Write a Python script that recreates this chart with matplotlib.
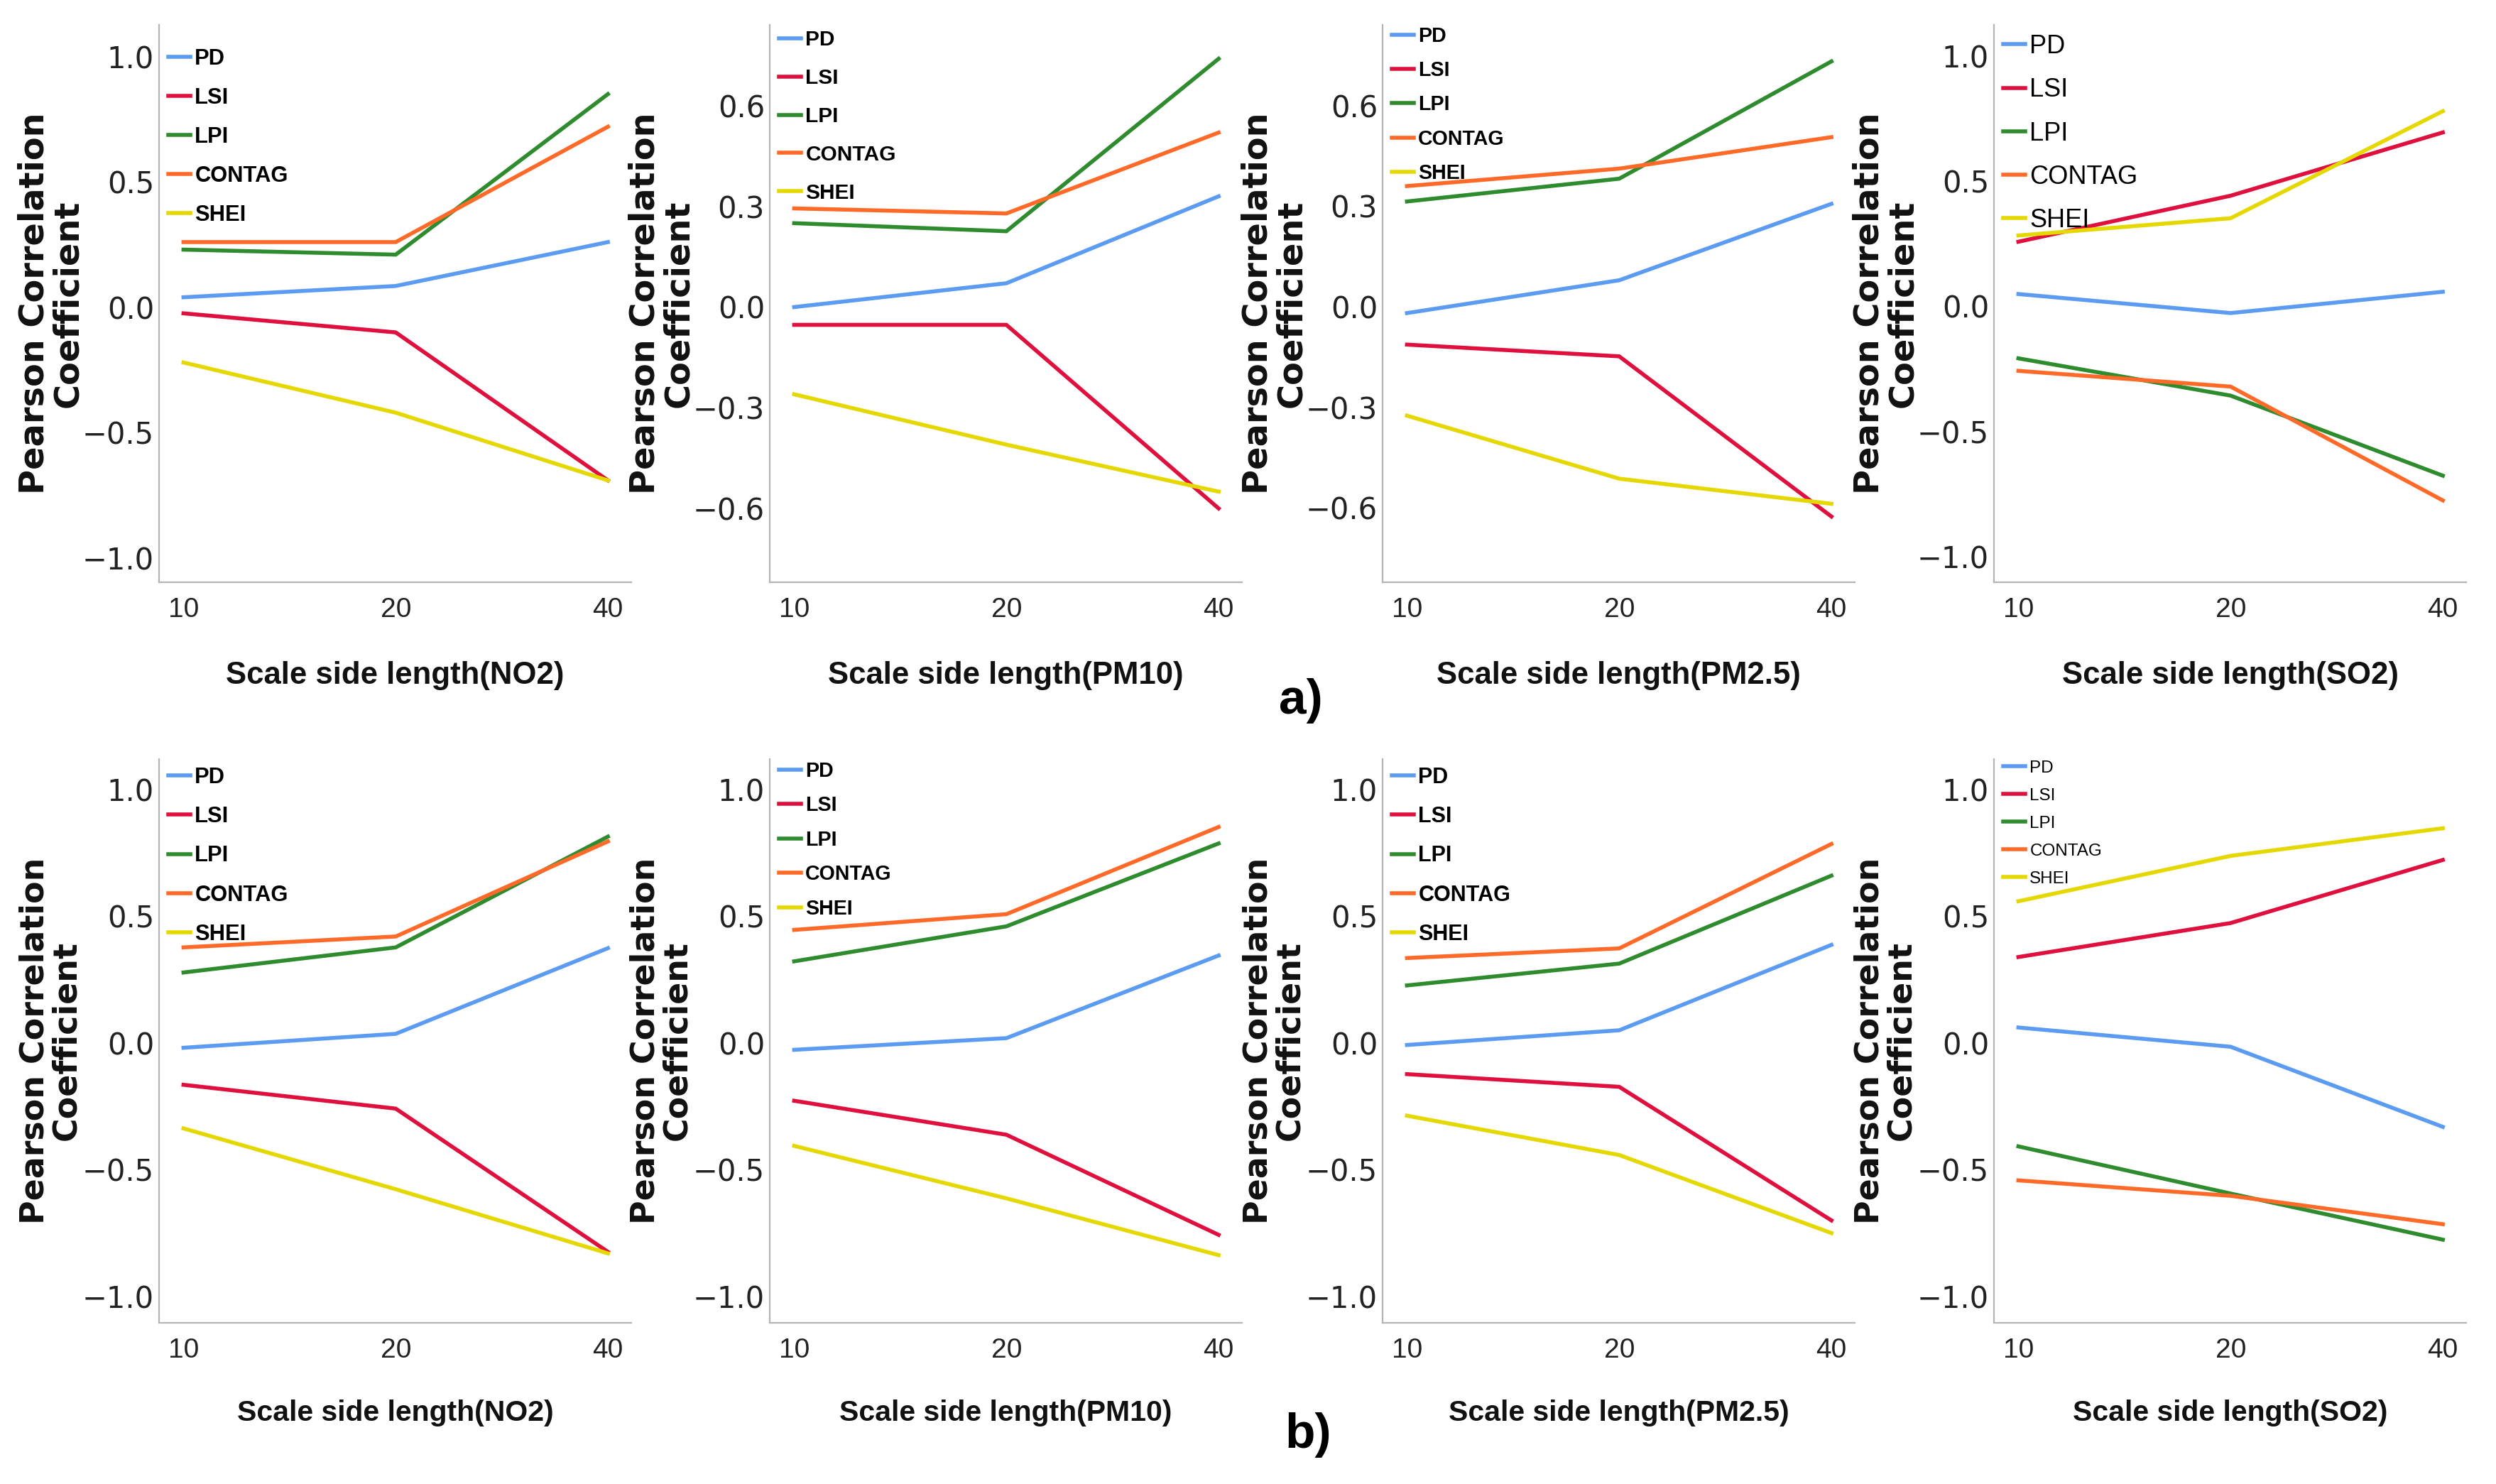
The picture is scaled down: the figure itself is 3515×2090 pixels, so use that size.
import matplotlib
matplotlib.use("Agg")
import matplotlib.pyplot as plt

# Scale side lengths on the x axis (categorical)
scales = ["10", "20", "40"]
indices = ["PD", "LSI", "LPI", "CONTAG", "SHEI"]
pollutants = ["NO2", "PM10", "PM2.5", "SO2"]

# Row a) Pearson correlation coefficients
no2_a = {"PD": [0.04, 0.085, 0.26], "LSI": [-0.024, -0.10, -0.69],
         "LPI": [0.23, 0.21, 0.85], "CONTAG": [0.26, 0.26, 0.72],
         "SHEI": [-0.22, -0.42, -0.69]}
pm10_a = {"PD": [0.0, 0.071, 0.33], "LSI": [-0.053, -0.053, -0.60],
          "LPI": [0.25, 0.226, 0.74], "CONTAG": [0.294, 0.279, 0.52],
          "SHEI": [-0.26, -0.41, -0.55]}
pm25_a = {"PD": [-0.019, 0.079, 0.307], "LSI": [-0.113, -0.148, -0.626],
          "LPI": [0.314, 0.382, 0.732], "CONTAG": [0.36, 0.412, 0.506],
          "SHEI": [-0.325, -0.513, -0.588]}
so2_a = {"PD": [0.049, -0.027, 0.058], "LSI": [0.258, 0.442, 0.695],
         "LPI": [-0.208, -0.357, -0.677], "CONTAG": [-0.258, -0.321, -0.776],
         "SHEI": [0.283, 0.352, 0.78]}

# Row b) Pearson correlation coefficients
no2_b = {"PD": [-0.019, 0.036, 0.374], "LSI": [-0.165, -0.259, -0.824],
         "LPI": [0.278, 0.377, 0.814], "CONTAG": [0.377, 0.42, 0.795],
         "SHEI": [-0.337, -0.577, -0.83]}
pm10_b = {"PD": [-0.027, 0.019, 0.345], "LSI": [-0.228, -0.362, -0.757],
          "LPI": [0.322, 0.46, 0.787], "CONTAG": [0.446, 0.508, 0.852],
          "SHEI": [-0.406, -0.613, -0.837]}
pm25_b = {"PD": [-0.008, 0.05, 0.387], "LSI": [-0.123, -0.173, -0.70],
          "LPI": [0.227, 0.313, 0.66], "CONTAG": [0.335, 0.373, 0.785],
          "SHEI": [-0.287, -0.442, -0.75]}
so2_b = {"PD": [0.061, -0.015, -0.331], "LSI": [0.339, 0.473, 0.722],
         "LPI": [-0.408, -0.594, -0.776], "CONTAG": [-0.542, -0.603, -0.715],
         "SHEI": [0.559, 0.738, 0.847]}

colors = {"PD": "#5b9cf2", "LSI": "#e0103e", "LPI": "#2e8b2e",
          "CONTAG": "#ff6a28", "SHEI": "#e4d800"}

NARROW = ["Liberation Sans Narrow", "Liberation Sans", "DejaVu Sans"]

W, H = 3515, 2090
fig = plt.figure(figsize=(W / 100, H / 100), dpi=100)

lefts = [224, 1084, 1947, 2808]
ax_w = 665
rows = [(35, 820), (1069, 1863)]

# per panel: ylim, ticks, legend fontsize, weight, row pitch (px), first entry offset (px)
panels = [
    [(no2_a, (-1.096, 1.126), [-1, -0.5, 0, 0.5, 1], 22.2, "bold", 53, 48),
     (pm10_a, (-0.82, 0.841), [-0.6, -0.3, 0, 0.3, 0.6], 21.5, "bold", 53, 22),
     (pm25_a, (-0.822, 0.841), [-0.6, -0.3, 0, 0.3, 0.6], 20.6, "bold", 46.3, 16),
     (so2_a, (-1.103, 1.125), [-1, -0.5, 0, 0.5, 1], 26.0, "normal", 59, 31)],
    [(no2_b, (-1.104, 1.12), [-1, -0.5, 0, 0.5, 1], 22.2, "bold", 53.3, 26),
     (pm10_b, (-1.104, 1.12), [-1, -0.5, 0, 0.5, 1], 20.6, "bold", 46.5, 17),
     (pm25_b, (-1.104, 1.12), [-1, -0.5, 0, 0.5, 1], 22.0, "bold", 53, 26),
     (so2_b, (-1.104, 1.12), [-1, -0.5, 0, 0.5, 1], 17.5, "normal", 39, 14)],
]

ylabel_size = [34.5, 33]
xlabel_size = [31.5, 29.5]

for r, (top, bottom) in enumerate(rows):
    ax_h = bottom - top
    for c, (data, ylim, yticks, lfs, lw_, pitch, loff) in enumerate(panels[r]):
        ax = fig.add_axes([lefts[c] / W, 1 - bottom / H, ax_w / W, ax_h / H])
        for name in indices:
            ax.plot(scales, data[name], color=colors[name], lw=4.0,
                    label=name, solid_joinstyle="miter")

        ax.set_xlim(-0.115, 2.11)
        ax.set_ylim(*ylim)
        ax.set_yticks(yticks)

        for side in ["top", "right"]:
            ax.spines[side].set_visible(False)
        for side in ["left", "bottom"]:
            ax.spines[side].set_color("#b4b4b4")
            ax.spines[side].set_linewidth(1.6)

        ax.tick_params(axis="y", length=0, pad=5, labelsize=30,
                       labelcolor="#222222")
        ax.tick_params(axis="x", length=0, pad=15, labelcolor="#222222")
        for lab in ax.get_xticklabels():
            lab.set_family(NARROW)
            lab.set_fontsize(28)

        ax.set_ylabel("Pearson Correlation\nCoefficient", fontsize=ylabel_size[r],
                      fontweight="bold", linespacing=1.0, color="#111111")
        ax.yaxis.label.set_va("center")
        ax.yaxis.set_label_coords(-0.229, 0.5)

        ax.set_xlabel(f"Scale side length({pollutants[c]})", fontsize=xlabel_size[r],
                      fontweight="bold", family=NARROW, color="#111111")
        ax.xaxis.label.set_va("center")
        ax.xaxis.set_label_coords(0.5, -(131 if r == 0 else 127) / ax_h)

        em = lfs / 0.72
        ytop = 1 - (loff - 0.5 * em) / ax_h
        ax.legend(loc="upper left", bbox_to_anchor=(0.02, ytop), frameon=False,
                  borderpad=0, borderaxespad=0, handlelength=31 / em,
                  handletextpad=6 / em, labelspacing=pitch / em - 0.906,
                  prop={"family": NARROW, "size": lfs, "weight": lw_})

fig.text(1832 / W, 1 - 987 / H, "a)", fontsize=50, fontweight="bold",
         family=["Liberation Sans", "DejaVu Sans"], ha="center", va="center")
fig.text(1842 / W, 1 - 2021 / H, "b)", fontsize=50, fontweight="bold",
         family=["Liberation Sans", "DejaVu Sans"], ha="center", va="center")

fig.savefig("out.png", dpi=100, facecolor="white")
